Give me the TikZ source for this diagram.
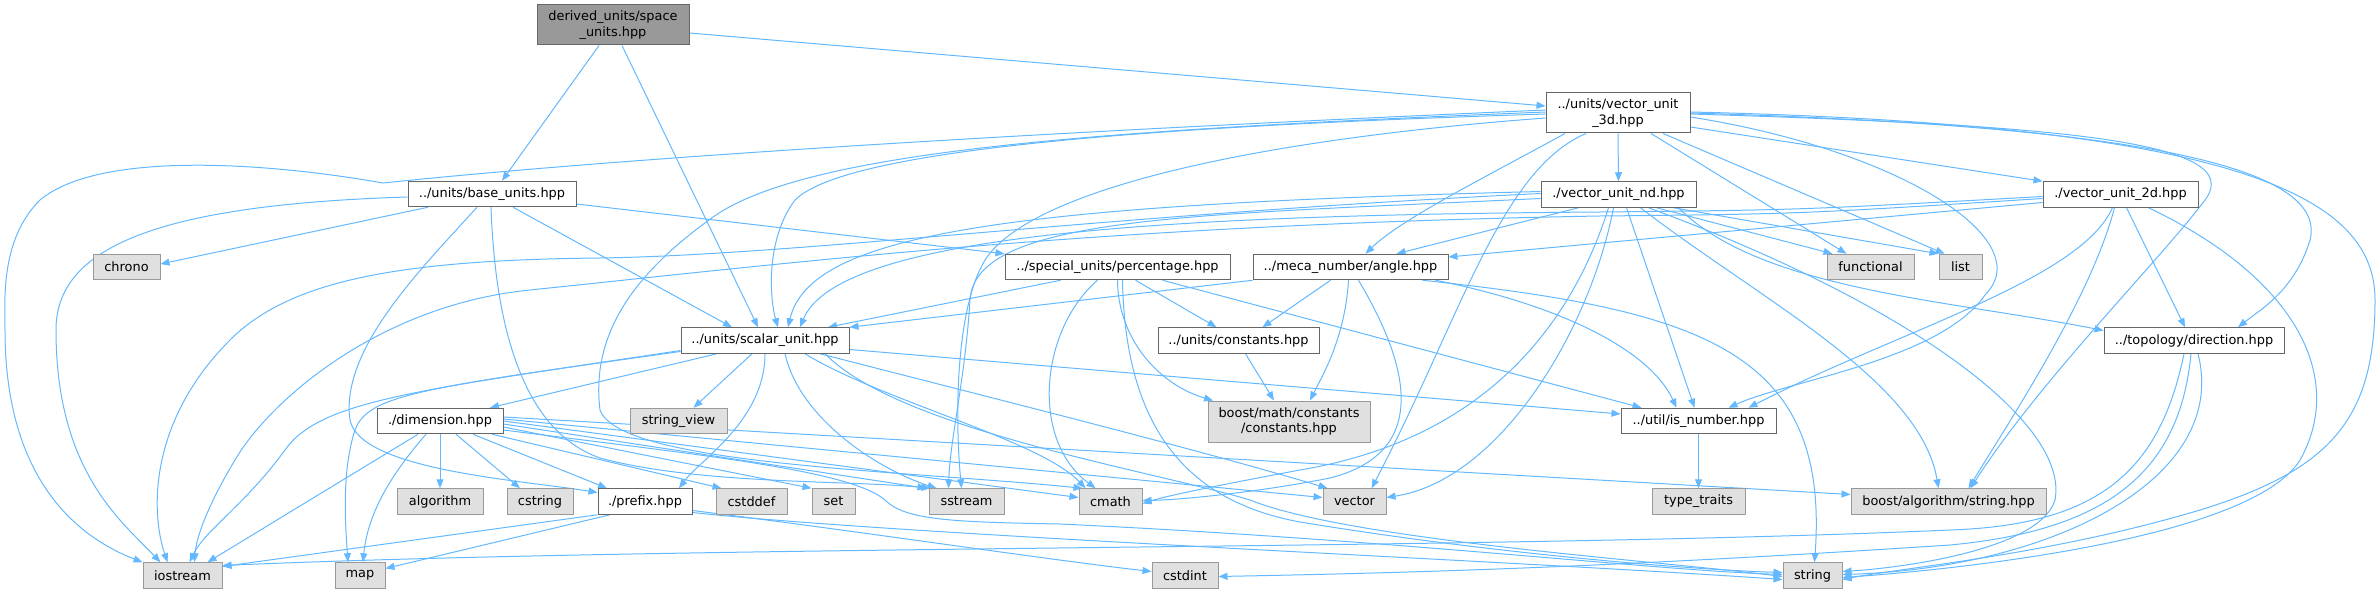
\documentclass[tikz,border=0pt]{standalone}
\usepackage{fontspec}
\setmainfont{DejaVu Sans}
\usetikzlibrary{arrows.meta}
\definecolor{edgec}{HTML}{63B8FF}
\definecolor{rootfill}{HTML}{999999}
\definecolor{rootdraw}{HTML}{666666}
\definecolor{extfill}{HTML}{E0E0E0}
\definecolor{extdraw}{HTML}{999999}
\pgfdeclarelayer{bg}
\pgfsetlayers{bg,main}
\tikzset{
  box/.style={rectangle, draw=rootdraw, fill=white, line width=1pt, inner sep=0pt,
    minimum height=25.5pt, font=\fontsize{12.9}{15.5}\selectfont, align=center, text=black},
  ext/.style={box, fill=extfill, draw=extdraw},
  root/.style={box, fill=rootfill, draw=rootdraw},
  e/.style={draw=edgec, line width=1pt, -{Triangle[length=9pt,width=7pt]}},
}
\begin{document}
\begin{tikzpicture}[x=1pt,y=-1pt]
\useasboundingbox (0,0) rectangle (2379,593);
% nodes
\node[root, minimum width=152pt, minimum height=40pt] (derived) at (613,25) {derived\_units/space\\\_units.hpp};
\node[box, minimum width=144pt, minimum height=40pt] (vtd) at (1618,113) {../units/vector\_unit\\\_3d.hpp};
\node[box, minimum width=168pt] (base) at (492,194) {../units/base\_units.hpp};
\node[box, minimum width=155pt] (vnd) at (1618.5,194.5) {./vector\_unit\_nd.hpp};
\node[box, minimum width=155pt] (vtwo) at (2120.5,194.5) {./vector\_unit\_2d.hpp};
\node[ext, minimum width=67pt] (chrono) at (126.5,267) {chrono};
\node[box, minimum width=225pt] (perc) at (1117.5,267) {../special\_units/percentage.hpp};
\node[box, minimum width=195pt] (angle) at (1350.5,267) {../meca\_number/angle.hpp};
\node[ext, minimum width=87pt] (functional) at (1870.5,267) {functional};
\node[ext, minimum width=43pt] (list) at (1960.5,267) {list};
\node[box, minimum width=168pt] (scalar) at (765,340.5) {../units/scalar\_unit.hpp};
\node[box, minimum width=161pt] (constants) at (1238.5,340.5) {../units/constants.hpp};
\node[box, minimum width=180pt] (direction) at (2194,340.5) {../topology/direction.hpp};
\node[box, minimum width=126pt] (dimension) at (440,421) {./dimension.hpp};
\node[ext, minimum width=97pt] (strview) at (678.5,421) {string\_view};
\node[ext, minimum width=162pt, minimum height=41pt] (bmath) at (1289,421.5) {boost/math/constants\\/constants.hpp};
\node[box, minimum width=155pt] (isnum) at (1698.5,421) {../util/is\_number.hpp};
\node[ext, minimum width=86pt] (algorithm) at (440,501.5) {algorithm};
\node[ext, minimum width=66pt] (cstring) at (540,501.5) {cstring};
\node[box, minimum width=94pt] (prefix) at (645,501.5) {./prefix.hpp};
\node[ext, minimum width=71pt] (cstddef) at (751.5,501.5) {cstddef};
\node[ext, minimum width=43pt] (set) at (833.5,501.5) {set};
\node[ext, minimum width=75pt] (sstream) at (966.5,501.5) {sstream};
\node[ext, minimum width=63pt] (cmath) at (1110.5,501.5) {cmath};
\node[ext, minimum width=63pt] (vector) at (1354.5,501.5) {vector};
\node[ext, minimum width=93pt] (traits) at (1698.5,501.5) {type\_traits};
\node[ext, minimum width=195pt] (balg) at (1948.5,501.5) {boost/algorithm/string.hpp};
\node[ext, minimum width=79pt] (iostream) at (182.5,575.5) {iostream};
\node[ext, minimum width=50pt] (map) at (360,575.5) {map};
\node[ext, minimum width=66pt] (cstdint) at (1185,575.5) {cstdint};
\node[ext, minimum width=59pt] (string) at (1812.5,575.5) {string};

\begin{pgfonlayer}{bg}
% derived
\draw[e] ([xshift=-14]derived.south) -- ([xshift=10]base.north);
\draw[e] ([xshift=9]derived.south) -- ([xshift=-7]scalar.north);
\draw[e] ([yshift=-8]derived.east) -- ([yshift=7]vtd.west);
% base
\draw[e] ([xshift=-64]base.south) -- ([yshift=3]chrono.east);
\draw[e] ([yshift=-3]base.west) .. controls (150,205) and (56,250) .. (56,330) .. controls (56,470) and (120,520) .. ([xshift=-22]iostream.north);
\draw[e] ([xshift=-15]base.south) .. controls (420,270) and (340,350) .. (350,420) .. controls (360,470) and (520,480) .. ([yshift=9]prefix.west);
\draw[e] ([xshift=-1]base.south) .. controls (495,320) and (520,430) .. (600,458) .. controls (700,485) and (850,480) .. ([xshift=2]sstream.north west);
\draw[e] ([xshift=21]base.south) -- ([xshift=-33]scalar.north);
\draw[e] ([yshift=-10]base.east) -- (perc.north west);
% scalar
\draw[e] ([xshift=-48]scalar.south) -- ([xshift=50]dimension.north);
\draw[e] ([xshift=-13]scalar.south) -- ([xshift=15]strview.north);
\draw[e] (scalar.south) .. controls (765,420) and (700,460) .. ([xshift=34]prefix.north);
\draw[e] ([yshift=-10]scalar.west) .. controls (420,390) and (320,400) .. (285,450) .. controls (245,505) and (205,530) .. ([xshift=7]iostream.north);
\draw[e] ([yshift=-11]scalar.west) .. controls (420,388) and (368,395) .. (355,430) .. controls (342,470) and (345,520) .. ([xshift=-12]map.north);
\draw[e] ([xshift=20]scalar.south) .. controls (800,420) and (880,470) .. ([xshift=-30]sstream.north);
\draw[e] ([xshift=40]scalar.south) .. controls (880,400) and (1040,440) .. ([xshift=-25]cmath.north);
\draw[e] ([xshift=55]scalar.south) .. controls (1000,400) and (1200,450) .. ([xshift=5]vector.north west);
\draw[e] ([xshift=60]scalar.south) .. controls (900,430) and (1150,470) .. (1250,500) .. controls (1350,540) and (1650,560) .. ([yshift=-1]string.west);
\draw[e] ([yshift=-9]scalar.east) -- ([yshift=7]isnum.west);
% dimension
\draw[e] ([xshift=-22]dimension.south) -- ([xshift=25]iostream.north);
\draw[e] ([xshift=-14]dimension.south) .. controls (395,470) and (368,510) .. ([xshift=3]map.north);
\draw[e] (dimension.south) -- (algorithm.north);
\draw[e] ([xshift=16]dimension.south) -- ([xshift=-20]cstring.north);
\draw[e] ([xshift=33]dimension.south) -- ([xshift=-38]prefix.north);
\draw[e] ([xshift=52]dimension.south) -- ([xshift=-30]cstddef.north);
\draw[e] ([yshift=-6]dimension.east) -- (set.north west);
\draw[e] ([yshift=-3]dimension.east) -- ([xshift=-2]sstream.north west);
\draw[e] (dimension.east) -- ([yshift=4]cmath.west);
\draw[e] ([yshift=2]dimension.east) -- ([yshift=4]vector.west);
\draw[e] ([yshift=4]dimension.east) -- ([yshift=7]balg.west);
\draw[e] ([yshift=-9]dimension.east) .. controls (700,455) and (850,470) .. (885,500) .. controls (905,520) and (950,522) .. (1060,524) .. controls (1400,540) and (1650,570) .. ([yshift=1]string.west);
% prefix
\draw[e] (prefix.south west) -- ([yshift=9]iostream.east);
\draw[e] ([xshift=-35]prefix.south) -- ([yshift=7]map.east);
\draw[e] ([yshift=-9]prefix.east) .. controls (850,530) and (1050,560) .. ([yshift=4]cstdint.west);
\draw[e] ([yshift=-11]prefix.east) .. controls (900,535) and (1500,560) .. ([yshift=-4]string.west);
% percentage
\draw[e] ([xshift=-57]perc.south) -- ([xshift=63]scalar.north);
\draw[e] ([xshift=18]perc.south) -- ([xshift=-22]constants.north);
\draw[e] (perc.south) .. controls (1118,340) and (1160,385) .. ([xshift=-76]bmath.north);
\draw[e] ([xshift=-20]perc.south) .. controls (1040,330) and (1030,440) .. ([xshift=-15]cmath.north);
\draw[e] ([xshift=5]perc.south) .. controls (1125,420) and (1180,500) .. (1300,522) .. controls (1500,555) and (1700,570) .. ([yshift=3]string.west);
\draw[e] ([xshift=45]perc.south) -- ([xshift=-57]isnum.north);
% angle
\draw[e] (angle.south west) -- (scalar.north east);
\draw[e] ([xshift=-20]angle.south) -- ([xshift=24]constants.north);
\draw[e] ([xshift=-2]angle.south) .. controls (1345,340) and (1320,380) .. ([xshift=21]bmath.north);
\draw[e] ([xshift=8]angle.south) .. controls (1400,350) and (1440,450) .. (1330,478) .. controls (1260,492) and (1180,500) .. ([yshift=1]cmath.east);
\draw[e] ([xshift=72]angle.south) .. controls (1700,310) and (1830,350) .. ([xshift=2]string.north);
\draw[e] ([xshift=85]angle.south) .. controls (1560,305) and (1650,350) .. ([xshift=-22]isnum.north);
% constants, is_number
\draw[e] ([xshift=7]constants.south) -- ([xshift=-15]bmath.north);
\draw[e] (isnum.south) -- (traits.north);
% vector_unit_nd
\draw[e] ([xshift=-40]vnd.south) -- ([xshift=46]angle.north);
\draw[e] ([yshift=3]vnd.west) .. controls (1000,205) and (810,235) .. ([xshift=23]scalar.north);
\draw[e] ([yshift=1]vnd.west) .. controls (1100,215) and (800,255) .. (600,258) .. controls (400,260) and (290,280) .. (230,340) .. controls (150,420) and (150,510) .. ([xshift=-15]iostream.north);
\draw[e] ([yshift=-4]vnd.west) .. controls (1200,215) and (975,215) .. (970,300) .. controls (965,380) and (950,440) .. ([xshift=-18]sstream.north);
\draw[e] ([xshift=-10]vnd.south) .. controls (1570,330) and (1480,440) .. (1300,470) .. controls (1220,485) and (1170,495) .. ([yshift=-2]cmath.east);
\draw[e] ([xshift=-5]vnd.south) .. controls (1590,330) and (1500,480) .. ([yshift=4]vector.east);
\draw[e] ([xshift=8]vnd.south) -- ([xshift=-4]isnum.north);
\draw[e] ([xshift=60]vnd.south) .. controls (1760,290) and (1950,300) .. ([yshift=10]direction.west);
\draw[e] ([xshift=38]vnd.south) -- ([xshift=-38]functional.north);
\draw[e] ([xshift=55]vnd.south) -- (list.north west);
\draw[e] ([xshift=22]vnd.south) .. controls (1760,300) and (1920,380) .. ([xshift=-10]balg.north);
\draw[e] ([xshift=30]vnd.south) .. controls (1900,300) and (2070,420) .. (2055,500) .. controls (2040,550) and (1900,568) .. ([yshift=4]string.east);
% vector_unit_2d
\draw[e] ([yshift=-8]vtwo.west) -- ([yshift=10]angle.east);
\draw[e] ([yshift=-2]vtwo.west) .. controls (1800,210) .. (1600,212) .. controls (1200,215) and (840,230) .. ([xshift=35]scalar.north);
\draw[e] ([yshift=-4]vtwo.west) .. controls (1800,214) .. (1600,216) .. controls (1100,225) and (800,262) .. (530,290) .. controls (380,305) and (270,400) .. (235,460) .. controls (205,510) and (196,540) .. ([xshift=12]iostream.north);
\draw[e] ([xshift=-8]vtwo.south) .. controls (2080,280) and (1900,330) .. ([xshift=50]isnum.north);
\draw[e] ([xshift=-6]vtwo.south) .. controls (2090,300) and (2010,420) .. ([xshift=20]balg.north);
\draw[e] ([xshift=6]vtwo.south) -- ([xshift=-9]direction.north);
\draw[e] ([xshift=28]vtwo.south) .. controls (2300,280) and (2345,380) .. (2300,460) .. controls (2250,540) and (1950,570) .. ([yshift=-2]string.east);
% vector_unit_3d
\draw[e] ([yshift=3]vtd.west) .. controls (1200,125) and (700,150) .. (383,183) .. controls (270,163) and (100,150) .. (40,200) .. controls (0,240) and (5,300) .. (5,330) .. controls (5,460) and (60,530) .. (iostream.north west);
\draw[e] ([yshift=-1]vtd.west) .. controls (1200,125) and (850,145) .. (795,200) .. controls (765,240) and (770,300) .. ([xshift=13]scalar.north);
\draw[e] ([yshift=-5]vtd.west) .. controls (1250,140) and (1030,190) .. (985,260) .. controls (955,310) and (955,420) .. ([xshift=-5]sstream.north);
\draw[e] ([yshift=1]vtd.west) .. controls (1100,130) and (800,150) .. (709,220) .. controls (640,270) and (590,330) .. (600,410) .. controls (620,465) and (900,470) .. ([xshift=-28]cmath.north);
\draw[e] ([xshift=-53]vtd.south) .. controls (1480,180) and (1400,220) .. ([xshift=15]angle.north);
\draw[e] (vtd.south) -- (vnd.north);
\draw[e] ([xshift=33]vtd.south) -- ([xshift=-24]functional.north);
\draw[e] ([xshift=45]vtd.south) -- ([xshift=-16]list.north);
\draw[e] ([yshift=-14]vtd.east) -- (vtwo.north west);
\draw[e] ([xshift=-32]vtd.south) .. controls (1500,170) and (1460,320) .. ([xshift=17]vector.north);
\draw[e] ([yshift=-4]vtd.east) .. controls (1900,150) and (2040,240) .. (1985,295) .. controls (1940,360) and (1790,380) .. ([xshift=30]isnum.north);
\draw[e] ([yshift=-1]vtd.east) .. controls (2050,125) and (2250,140) .. (2205,200) .. controls (2160,260) and (2040,380) .. ([xshift=22]balg.north);
\draw[e] (vtd.east) .. controls (2100,125) and (2330,160) .. (2310,240) .. controls (2295,290) and (2260,310) .. ([xshift=44]direction.north);
\draw[e] ([yshift=1]vtd.east) .. controls (2250,125) and (2375,200) .. (2375,300) .. controls (2375,420) and (2330,470) .. (2200,510) .. controls (2050,555) and (1900,568) .. ([yshift=-4]string.east);
% direction
\draw[e] ([xshift=-10]direction.south) .. controls (2160,470) and (2100,525) .. (1950,530) .. controls (1500,550) and (700,545) .. ([yshift=10]iostream.east);
\draw[e] ([xshift=-3]direction.south) .. controls (2180,470) and (2110,530) .. (1950,545) .. controls (1600,568) and (1400,573) .. ([yshift=-1]cstdint.east);
\draw[e] ([xshift=4]direction.south) .. controls (2230,480) and (2050,568) .. ([yshift=1]string.east);
\end{pgfonlayer}
\end{tikzpicture}
\end{document}
